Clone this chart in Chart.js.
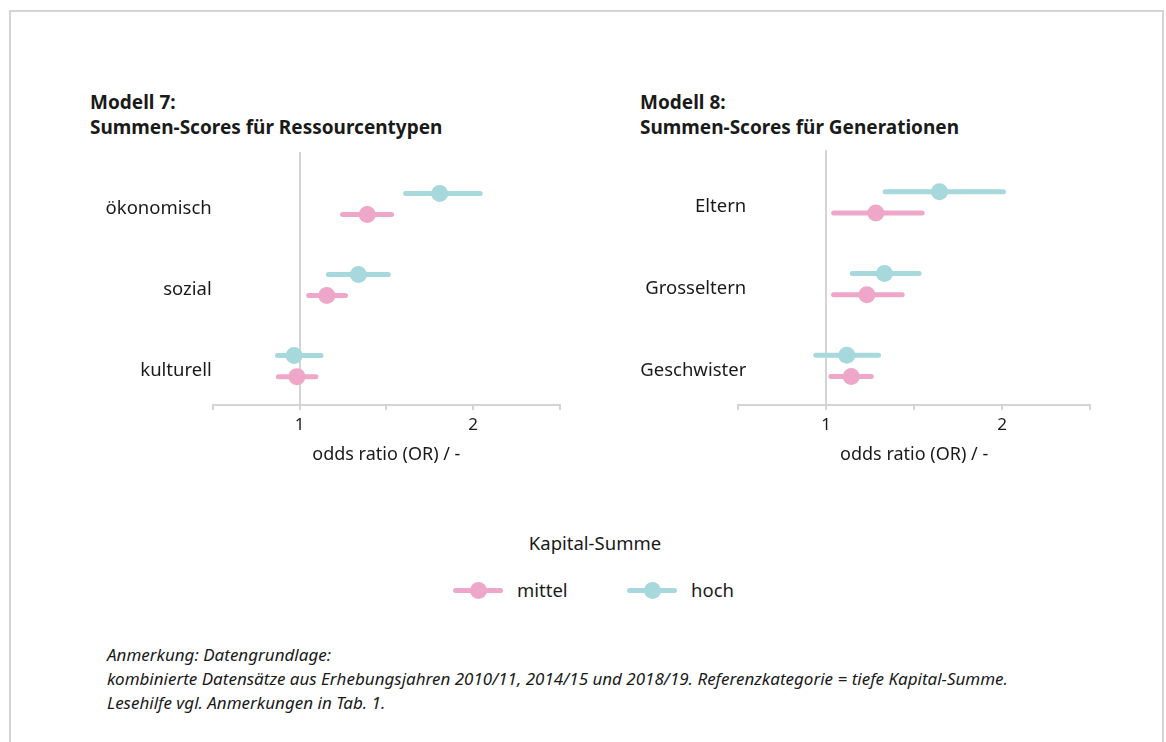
<!DOCTYPE html>
<html>
<head>
<meta charset="utf-8">
<script src="https://cdn.jsdelivr.net/npm/chart.js@4.4.0/dist/chart.umd.min.js"></script>
<style>
  body { margin: 0; background: #fff; font-family: "Noto Sans", sans-serif; color: #1a1a1a; }
  #frame { position: absolute; left: 9px; top: 10px; width: 1151px; height: 760px; border: 2px solid #d4d4d4; border-bottom: none; }
  .title { position: absolute; font-weight: bold; font-size: 19px; line-height: 25px; }
  canvas { position: absolute; }
  #legendTitle { position: absolute; left: 0; width: 1190px; top: 530px; text-align: center; font-size: 18.5px; line-height: 26px; }
  .item { position: absolute; top: 577px; height: 26px; font-size: 18.5px; line-height: 26px; }
  .sw { position: absolute; left: 0; top: 1px; width: 50px; height: 24px; }
  .sw::before { content: ""; position: absolute; left: 0; top: 9.5px; width: 50px; height: 5px; border-radius: 3px; background: var(--c); }
  .sw::after { content: ""; position: absolute; left: 16.5px; top: 3.5px; width: 17px; height: 17px; border-radius: 50%; background: var(--c); }
  .item span.lbl { position: absolute; left: 64px; top: 0; white-space: nowrap; }
  #note { position: absolute; left: 107px; top: 643px; font-style: italic; font-size: 17px; line-height: 24px; }
</style>
</head>
<body>
<div id="frame"></div>
<div class="title" style="left:90px;top:90px">Modell 7:<br>Summen-Scores für Ressourcentypen</div>
<div class="title" style="left:640px;top:90px">Modell 8:<br>Summen-Scores für Generationen</div>
<canvas id="chart7" width="490" height="340" style="left:90px;top:140px"></canvas>
<canvas id="chart8" width="490" height="340" style="left:620px;top:140px"></canvas>
<div id="legendTitle">Kapital-Summe</div>
<div class="item" style="left:453px"><span class="sw" style="--c:#eea7c8"></span><span class="lbl">mittel</span></div>
<div class="item" style="left:627px"><span class="sw" style="--c:#a7d8dc"></span><span class="lbl">hoch</span></div>
<div id="note">Anmerkung: Datengrundlage:<br>kombinierte Datensätze aus Erhebungsjahren 2010/11, 2014/15 und 2018/19. Referenzkategorie = tiefe Kapital-Summe.<br>Lesehilfe vgl. Anmerkungen in Tab. 1.</div>
<script>
// Modell 7: Ressourcentypen
const kategorien7 = ['ökonomisch', 'sozial', 'kulturell'];
const mittel7 = [1.39, 1.157, 0.985];
const mittel7Lo = [1.248, 1.053, 0.878];
const mittel7Hi = [1.53, 1.265, 1.094];
const hoch7 = [1.807, 1.339, 0.969];
const hoch7Lo = [1.611, 1.166, 0.873];
const hoch7Hi = [2.04, 1.511, 1.123];

// Modell 8: Generationen
const kategorien8 = ['Eltern', 'Grosseltern', 'Geschwister'];
const mittel8 = [1.282, 1.231, 1.142];
const mittel8Lo = [1.042, 1.042, 1.027];
const mittel8Hi = [1.545, 1.432, 1.256];
const hoch8 = [1.644, 1.331, 1.117];
const hoch8Lo = [1.335, 1.148, 0.941];
const hoch8Hi = [2.008, 1.528, 1.297];

const xTicks = [0.5, 1, 1.5, 2, 2.5];
const xLabels = ['', '1', '', '2', ''];

const farbeMittel = '#eea7c8';
const farbeHoch = '#a7d8dc';
const grau = '#d4d4d4';
const schrift = '"Noto Sans", sans-serif';

function baueChart(id, kategorien, serien, yBreite, labelPad) {
    const datasets = [];
    serien.forEach(s => {
        kategorien.forEach((k, i) => {
            datasets.push({
                label: s.name + ' ' + k,
                data: [{x: s.lo[i], y: i + s.off}, {x: s.hi[i], y: i + s.off}],
                showLine: true,
                borderColor: s.farbe,
                borderWidth: 5,
                borderCapStyle: 'round',
                pointRadius: 0,
                order: 2
            });
        });
        datasets.push({
            label: s.name,
            data: kategorien.map((k, i) => ({x: s.est[i], y: i + s.off})),
            backgroundColor: s.farbe,
            borderWidth: 0,
            pointRadius: 8.5,
            order: 1
        });
    });

    return new Chart(document.getElementById(id).getContext('2d'), {
        type: 'scatter',
        data: {datasets: datasets},
        options: {
            responsive: false,
            animation: false,
            layout: {padding: {top: 10, right: 20, left: 0, bottom: 0}},
            plugins: {legend: {display: false}, tooltip: {enabled: false}},
            scales: {
                x: {
                    type: 'linear',
                    min: 0.5,
                    max: 2.5,
                    afterBuildTicks: sc => { sc.ticks = xTicks.map(v => ({value: v})); },
                    afterFit: sc => { sc.height = 75; },
                    ticks: {
                        callback: (v, idx) => xLabels[idx],
                        color: '#1a1a1a',
                        font: {family: schrift, size: 17},
                        padding: 5,
                        maxRotation: 0
                    },
                    grid: {
                        color: c => (c.tick && c.tick.value === 1) ? grau : 'rgba(0,0,0,0)',
                        tickColor: grau,
                        lineWidth: 2,
                        tickLength: 5
                    },
                    border: {color: grau, width: 2},
                    title: {
                        display: true,
                        text: 'odds ratio (OR) / -',
                        color: '#1a1a1a',
                        font: {family: schrift, size: 18},
                        padding: {top: 0, bottom: 14}
                    }
                },
                y: {
                    type: 'linear',
                    reverse: true,
                    min: -0.7,
                    max: 2.42,
                    afterBuildTicks: sc => { sc.ticks = kategorien.map((k, i) => ({value: i})); },
                    afterFit: sc => {
                        sc.width = yBreite;
                        // labels may reach into the plot area, so do not clip them
                        sc._computeLabelArea = () => undefined;
                    },
                    ticks: {
                        callback: v => kategorien[v],
                        color: '#1a1a1a',
                        font: {family: schrift, size: 18.5},
                        padding: labelPad
                    },
                    grid: {display: false, drawTicks: false},
                    border: {display: false}
                }
            }
        }
    });
}

baueChart('chart7', kategorien7, [
    {name: 'hoch', est: hoch7, lo: hoch7Lo, hi: hoch7Hi, farbe: farbeHoch, off: -0.19},
    {name: 'mittel', est: mittel7, lo: mittel7Lo, hi: mittel7Hi, farbe: farbeMittel, off: 0.07}
], 122.7, 1);

baueChart('chart8', kategorien8, [
    {name: 'hoch', est: hoch8, lo: hoch8Lo, hi: hoch8Hi, farbe: farbeHoch, off: -0.19},
    {name: 'mittel', est: mittel8, lo: mittel8Lo, hi: mittel8Hi, farbe: farbeMittel, off: 0.07}
], 118.3, -8);
</script>
</body>
</html>
